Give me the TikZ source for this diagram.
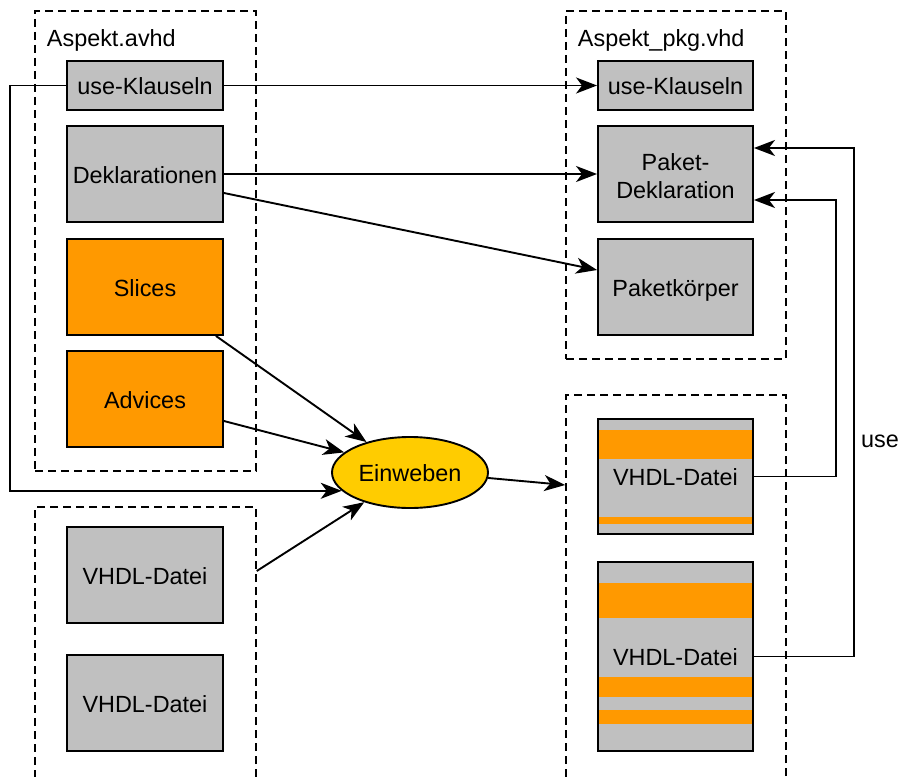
\documentclass[tikz,border=0pt]{standalone}
\usepackage{fontspec}
\setmainfont{Liberation Sans}
\usetikzlibrary{arrows.meta,shapes.geometric,calc}
\definecolor{boxgray}{HTML}{C0C0C0}
\definecolor{aorange}{HTML}{FF9900}
\definecolor{ayellow}{HTML}{FFCC00}
\begin{document}
\begin{tikzpicture}[x=1pt,y=-1pt, font=\fontsize{23.4}{28}\selectfont, line width=1.9pt,
  gbox/.style={draw, fill=boxgray, minimum width=156pt, inner sep=0pt, align=center},
  oneline/.style={text height=18.5pt, text depth=0pt},
  obox/.style={gbox, oneline, fill=aorange},
  frame/.style={draw, dash pattern=on 8pt off 5pt, line width=1.5pt, inner sep=0pt},
  conn/.style={-{Stealth[length=21pt,width=16pt,inset=6pt]}},
  stripe/.style={fill=aorange}]
\useasboundingbox (0,0) rectangle (901,776);
\clip (0,0) rectangle (901,776);
% frames
\node[frame, minimum width=221pt, minimum height=460pt] (L1) at (145.5,241) {};
\node[frame, minimum width=221pt, minimum height=283pt] (L2) at (145.5,648.5) {};
\node[frame, minimum width=220pt, minimum height=348pt] (P1) at (676,185) {};
\node[frame, minimum width=220pt, minimum height=395pt] (P2) at (676,592.5) {};
\node[anchor=west, inner sep=0pt] (L1lab) at (46,40) {Aspekt.avhd};
\node[anchor=west, inner sep=0pt] (P1lab) at (577,40) {Aspekt\_pkg.vhd};
% left boxes
\node[gbox, oneline, minimum height=49pt] (U1) at (145,85.5) {use-Klauseln};
\node[gbox, oneline, minimum height=96pt] (D1) at (145,174) {Deklarationen};
\node[obox, minimum height=96pt] (S) at (145,287) {Slices};
\node[obox, minimum height=96pt] (Adv) at (145,399) {Advices};
\node[gbox, oneline, minimum height=96pt] (V1) at (145,575) {VHDL-Datei};
\node[gbox, oneline, minimum height=96pt] (V2) at (145,703) {VHDL-Datei};
% right boxes
\node[gbox, oneline, minimum width=155pt, minimum height=49pt] (U2) at (675.5,85.5) {use-Klauseln};
\node[gbox, minimum width=155pt, minimum height=96pt] (PD) at (675.5,174) {};
\node[align=center, inner sep=0pt] (PDtxt) at (675.5,176) {Paket-\\Deklaration};
\node[gbox, oneline, minimum width=155pt, minimum height=96pt] (PK) at (675.5,287) {Paketkörper};
\node[gbox, oneline, minimum width=155pt, minimum height=115pt] (R1) at (675.5,476.5) {VHDL-Datei};
\node[gbox, oneline, minimum width=155pt, minimum height=189pt] (R2) at (675.5,656.5) {VHDL-Datei};
\fill[stripe] (599,430) rectangle (752,459);
\fill[stripe] (599,517) rectangle (752,524);
\fill[stripe] (599,583) rectangle (752,618);
\fill[stripe] (599,677) rectangle (752,697);
\fill[stripe] (599,710) rectangle (752,724);
% ellipse
\node[ellipse, draw, fill=ayellow, oneline, minimum width=156pt, minimum height=71pt, inner sep=0pt] (E) at (410,472.5) {Einweben};
% connectors
\draw[conn] (U1.west) -- ++(-56,0) |- (E.195);
\draw[conn] (U1.east) -- (U2.west);
\draw[conn] (D1.east) -- (PD.west);
\draw[conn] ($(D1.east)+(0,19)$) -- ($(PK.west)+(0,-17)$);
\draw[conn] ($(S.south east)+(-8,0)$) -- (E.145);
\draw[conn] ($(Adv.east)+(0,22)$) -- (E.163);
\draw[conn] ($(L2.east)+(0,-77.5)$) -- (E.213);
\draw[conn] (E.-4) -- ($(P2.west)+(0,-107.5)$);
\draw[conn] (R1.east) -- ++(82,0) |- ($(PD.east)+(0,26)$);
\draw[conn] (R2.east) -- ++(100,0) |- ($(PD.east)+(0,-26)$);
\node[oneline] (uselab) at (880,438) {use};
\end{tikzpicture}
\end{document}
